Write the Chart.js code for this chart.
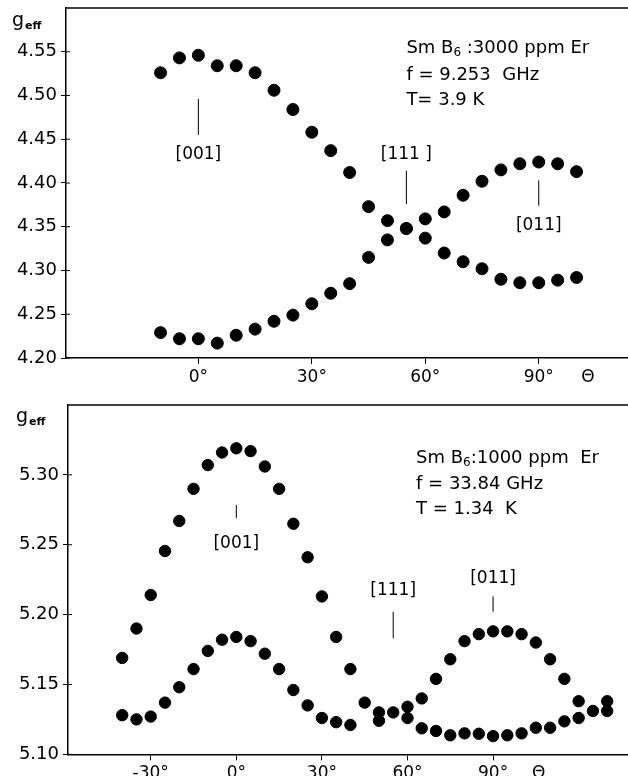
<!DOCTYPE html>
<html>
<head>
<meta charset="utf-8">
<script src="https://cdn.jsdelivr.net/npm/chart.js@4.4.0/dist/chart.umd.min.js"></script>
<style>
html, body { margin: 0; padding: 0; background: #fff; overflow: hidden; }
canvas { position: absolute; left: 0; }
#topChart { top: 0; }
#bottomChart { top: 390px; }
</style>
</head>
<body>
<canvas id="topChart" width="628" height="390"></canvas>
<canvas id="bottomChart" width="628" height="386"></canvas>
<script>
// upper panel: 3000 ppm Er, 9.253 GHz
const topAngles = [-10, -5, 0, 5, 10, 15, 20, 25, 30, 35, 40, 45, 50, 55, 60, 65, 70, 75, 80, 85, 90, 95, 100];
const topBranchA = [4.526, 4.543, 4.546, 4.534, 4.534, 4.526, 4.506, 4.484, 4.458, 4.437, 4.412, 4.373, 4.357, 4.348, 4.337, 4.320, 4.310, 4.302, 4.290, 4.286, 4.286, 4.289, 4.292];
const topBranchB = [4.229, 4.222, 4.222, 4.217, 4.226, 4.233, 4.242, 4.249, 4.262, 4.274, 4.285, 4.315, 4.335, 4.348, 4.359, 4.367, 4.386, 4.402, 4.415, 4.422, 4.424, 4.422, 4.413];
const topYTicks = [4.20, 4.25, 4.30, 4.35, 4.40, 4.45, 4.50, 4.55];
const topXTicks = [0, 30, 60, 90, 103];
const topXLabels = ["0°", "30°", "60°", "90°", "Θ"];

// lower panel: 1000 ppm Er, 33.84 GHz
const botAngles = [-40, -35, -30, -25, -20, -15, -10, -5, 0, 5, 10, 15, 20, 25, 30, 35, 40, 45, 50, 55, 60, 65, 70, 75, 80, 85, 90, 95, 100, 105, 110, 115, 120, 125, 130];
const botBranchA = [5.169, 5.190, 5.214, 5.2455, 5.267, 5.290, 5.307, 5.316, 5.319, 5.317, 5.306, 5.290, 5.265, 5.241, 5.213, 5.184, 5.161, 5.137, 5.130, 5.130, 5.134, 5.140, 5.154, 5.168, 5.181, 5.186, 5.188, 5.188, 5.186, 5.180, 5.168, 5.154, 5.138, null, 5.138];
const botBranchB = [5.128, 5.125, 5.127, 5.137, 5.148, 5.161, 5.174, 5.182, 5.184, 5.181, 5.172, 5.161, 5.146, 5.135, 5.126, 5.123, 5.121, null, 5.124, null, 5.126, 5.1186, 5.1167, 5.1136, 5.115, 5.1147, 5.113, 5.1136, 5.115, 5.119, 5.119, 5.1236, 5.126, 5.131, 5.131];
const botYTicks = [5.10, 5.15, 5.20, 5.25, 5.30];
const botXTicks = [-30, 0, 30, 60, 90, 106];
const botXLabels = ["-30°", "0°", "30°", "60°", "90°", "Θ"];

const FONT = '"DejaVu Sans", sans-serif';

function toPoints(xs, ys) {
    return xs.map((x, i) => ({ x: x, y: ys[i] })).filter(p => p.y !== null);
}

// frame top line, inner tick halves, g_eff, direction marks and sample text
const paperDecor = {
    id: "paperDecor",
    afterDraw(chart, args, opts) {
        const ctx = chart.ctx;
        const a = chart.chartArea;
        const xs = chart.scales.x;
        const ys = chart.scales.y;
        ctx.save();
        ctx.strokeStyle = "#000";
        ctx.fillStyle = "#000";
        ctx.lineWidth = 1.5;
        ctx.beginPath();
        ctx.moveTo(a.left, a.top);
        ctx.lineTo(a.right, a.top);
        ctx.stroke();

        ctx.lineWidth = 1;
        ys.ticks.forEach(t => {
            const py = ys.getPixelForValue(t.value);
            ctx.beginPath();
            ctx.moveTo(a.left, py);
            ctx.lineTo(a.left + 4, py);
            ctx.stroke();
        });

        // axis title g_eff
        ctx.textAlign = "left";
        ctx.textBaseline = "alphabetic";
        ctx.font = "19px " + FONT;
        ctx.fillText("g", opts.gPos[0], opts.gPos[1]);
        const gw = ctx.measureText("g").width;
        ctx.font = "bold 11px " + FONT;
        ctx.fillText("eff", opts.gPos[0] + gw + 1, opts.gPos[1] + 3);

        // crystal direction marks
        opts.marks.forEach(m => {
            const px = xs.getPixelForValue(m.x);
            ctx.beginPath();
            ctx.moveTo(px, ys.getPixelForValue(m.y1));
            ctx.lineTo(px, ys.getPixelForValue(m.y2));
            ctx.stroke();
        });
        ctx.font = "17px " + FONT;
        ctx.textAlign = "center";
        ctx.textBaseline = "middle";
        opts.labels.forEach(l => {
            ctx.fillText(l.text, xs.getPixelForValue(l.x), ys.getPixelForValue(l.y));
        });

        // sample info block
        ctx.textAlign = "left";
        opts.info.lines.forEach((runs, i) => {
            let px = xs.getPixelForValue(opts.info.x);
            const py = ys.getPixelForValue(opts.info.y[i]);
            runs.forEach(r => {
                ctx.font = (r.sub ? "12px " : "18px ") + FONT;
                ctx.fillText(r.t, px, py + (r.sub ? 5 : 0));
                px += ctx.measureText(r.t).width;
            });
        });
        ctx.restore();
    }
};

function makeChart(id, cfg) {
    const ctx = document.getElementById(id).getContext("2d");
    return new Chart(ctx, {
        type: "scatter",
        data: {
            datasets: cfg.series.map(s => ({
                data: toPoints(cfg.angles, s),
                backgroundColor: "#000",
                borderColor: "#000",
                pointRadius: cfg.radius,
                pointHoverRadius: cfg.radius,
                showLine: false
            }))
        },
        options: {
            responsive: false,
            animation: false,
            events: [],
            layout: {
                autoPadding: false,
                padding: { top: cfg.padTop, right: 0, left: 0, bottom: 0 }
            },
            plugins: {
                legend: { display: false },
                tooltip: { enabled: false },
                paperDecor: cfg.decor
            },
            scales: {
                x: {
                    type: "linear",
                    min: cfg.xMin,
                    max: cfg.xMax,
                    afterBuildTicks: scale => { scale.ticks = cfg.xTicks.map(v => ({ value: v })); },
                    afterFit: scale => {
                        scale.height = cfg.xHeight;
                        scale.paddingLeft = 0;
                        scale.paddingRight = 0;
                    },
                    ticks: {
                        color: "#000",
                        font: { family: FONT, size: 17 },
                        padding: 3,
                        maxRotation: 0,
                        callback: (v) => cfg.xLabels[cfg.xTicks.indexOf(v)]
                    },
                    grid: {
                        drawOnChartArea: false,
                        drawTicks: true,
                        tickLength: 6,
                        color: c => (c.tick && cfg.xLabels[cfg.xTicks.indexOf(c.tick.value)] === "Θ") ? "rgba(0,0,0,0)" : "#000"
                    },
                    border: { display: true, color: "#000", width: 1.5 }
                },
                y: {
                    type: "linear",
                    min: cfg.yMin,
                    max: cfg.yMax,
                    afterBuildTicks: scale => { scale.ticks = cfg.yTicks.map(v => ({ value: v })); },
                    afterFit: scale => {
                        scale.width = cfg.yWidth;
                        scale.paddingTop = 0;
                        scale.paddingBottom = 0;
                    },
                    ticks: {
                        color: "#000",
                        font: { family: FONT, size: 18 },
                        padding: 4,
                        callback: v => v.toFixed(2)
                    },
                    grid: { drawOnChartArea: false, drawTicks: true, tickLength: 5, color: "#000" },
                    border: { display: true, color: "#000", width: 1.5 }
                }
            }
        },
        plugins: [paperDecor]
    });
}

makeChart("topChart", {
    angles: topAngles,
    series: [topBranchA, topBranchB],
    radius: 6,
    xMin: -35, xMax: 113.6, yMin: 4.20, yMax: 4.60,
    xTicks: topXTicks, xLabels: topXLabels, yTicks: topYTicks,
    padTop: 8, xHeight: 32, yWidth: 66,
    decor: {
        gPos: [12, 26],
        marks: [
            { x: 0, y1: 4.496, y2: 4.455 },
            { x: 55, y1: 4.414, y2: 4.376 },
            { x: 90, y1: 4.403, y2: 4.374 }
        ],
        labels: [
            { text: "[001]", x: 0, y: 4.432 },
            { text: "[111 ]", x: 55, y: 4.432 },
            { text: "[011]", x: 90, y: 4.351 }
        ],
        info: {
            x: 55,
            y: [4.554, 4.523, 4.495],
            lines: [
                [{ t: "Sm B" }, { t: "6", sub: true }, { t: " :3000 ppm Er" }],
                [{ t: "f = 9.253  GHz" }],
                [{ t: "T= 3.9 K" }]
            ]
        }
    }
});

makeChart("bottomChart", {
    angles: botAngles,
    series: [botBranchA, botBranchB],
    radius: 5.7,
    xMin: -59, xMax: 137.3, yMin: 5.10, yMax: 5.35,
    xTicks: botXTicks, xLabels: botXLabels, yTicks: botYTicks,
    padTop: 15, xHeight: 21.7, yWidth: 68,
    decor: {
        gPos: [16, 32],
        marks: [
            { x: 0, y1: 5.2785, y2: 5.269 },
            { x: 55, y1: 5.202, y2: 5.183 },
            { x: 90, y1: 5.213, y2: 5.202 }
        ],
        labels: [
            { text: "[001]", x: 0, y: 5.251 },
            { text: "[111]", x: 55, y: 5.217 },
            { text: "[011]", x: 90, y: 5.226 }
        ],
        info: {
            x: 63,
            y: [5.312, 5.293, 5.275],
            lines: [
                [{ t: "Sm B" }, { t: "6", sub: true }, { t: ":1000 ppm  Er" }],
                [{ t: "f = 33.84 GHz" }],
                [{ t: "T = 1.34  K" }]
            ]
        }
    }
});
</script>
</body>
</html>
